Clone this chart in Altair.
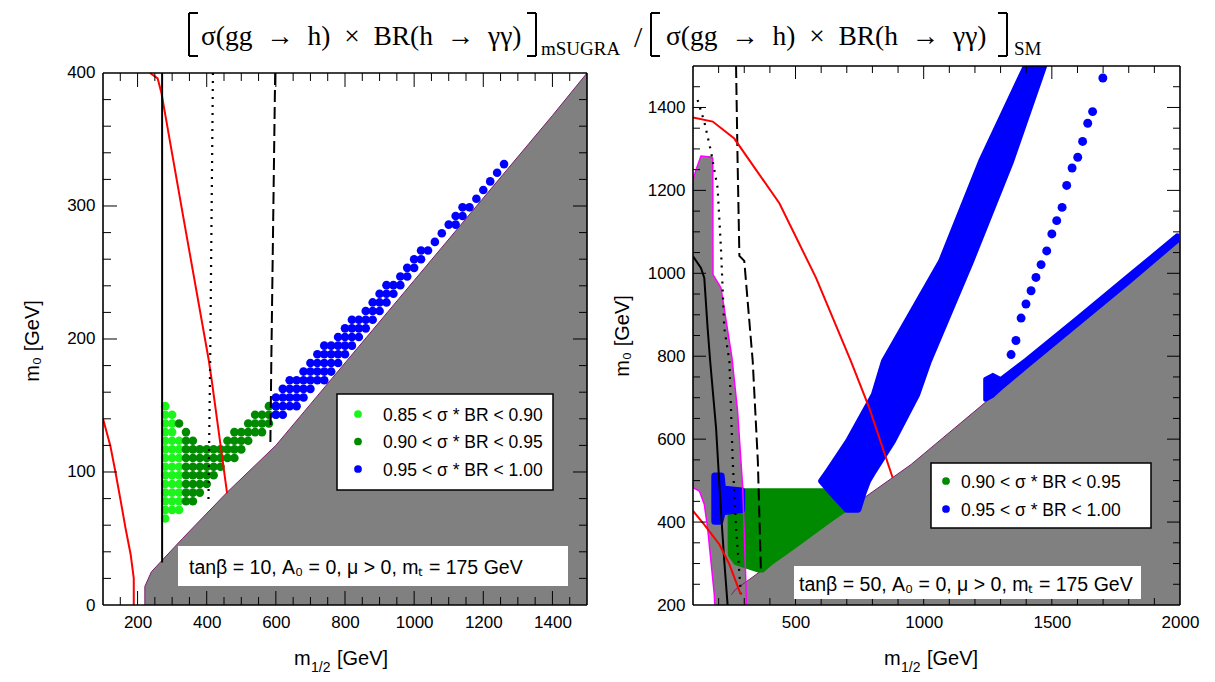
import altair as alt
import numpy as np
import pandas as pd

SANS = "Liberation Sans"
SERIF = "Liberation Serif"

# ======================= left panel : tan(beta) = 10 =======================
L_W, PANEL_H = 484, 539
L_XDOMAIN = [100, 1500]
L_YDOMAIN = [0, 405.26]          # frame top (400) sits 7 px below the panel top
L_YFRAME = [0, 400]
L_XLABELS = [200, 400, 600, 800, 1000, 1200, 1400]
L_YLABELS = [0, 100, 200, 300, 400]

L_GRAY_M = [221, 221, 240, 330, 460, 600, 800, 1000, 1200, 1400, 1500]
L_GRAY_M0 = [0, 14, 25, 50, 85, 120, 182, 244, 306, 368, 400]

L_M0_STEP = 6.5
L_LG_M = [280, 300, 320]
L_LG_LO = [65, 68, 70]
L_LG_HI = [150, 144, 128]

L_DG_M = [320, 340, 360, 380, 400, 420, 440, 460, 480, 500, 520, 540, 560, 580, 600]
L_DG_LO = [135, 73, 73, 83, 88, 93, 100, 106, 110, 115, 120, 124, 128, 134, 138]
L_DG_HI = [135, 130, 125, 120, 120, 120, 120, 125, 130, 135, 140, 145, 148, 152, 155]

L_BL_M = [600, 620, 640, 660, 680, 700, 720, 740, 760, 780, 800, 820, 840, 860, 880, 900,
          920, 940, 960, 980, 1000, 1020, 1040, 1060, 1080, 1100, 1120, 1140, 1160, 1180,
          1200, 1220, 1240, 1260]
L_BL_LO = [143, 143, 146, 149, 153, 158, 163, 169, 175, 181, 187, 193, 199, 206, 212, 218,
           224, 230, 237, 243, 249, 255, 261, 268, 274, 280, 286, 292, 299, 305,
           311, 317, 323, 330]
L_BL_HI = [160, 165, 170, 175, 180, 185, 190, 195, 200, 205, 210, 215, 220, 225, 230, 236,
           241, 246, 251, 256, 261, 267, 272, 277, 283, 288, 294, 299, 305, 311,
           317, 322, 328, 333]

L_RED1_M = [236, 258, 269, 330, 406, 415, 459]
L_RED1_M0 = [400, 396, 385, 295, 184, 168, 84]
L_RED2_M = [100, 121, 136, 150, 165, 180, 189, 189]
L_RED2_M0 = [140, 120, 100, 80, 58, 38, 20, 0]
L_SOLID_M = [271, 271]
L_SOLID_M0 = [400, 32]
L_DOT_M = [418, 410, 405]
L_DOT_M0 = [400, 183, 78]
L_DASH_M = [598, 587, 584]
L_DASH_M0 = [400, 186, 119]

L_CLASSES = ["0.85 < \u03c3 * BR < 0.90", "0.90 < \u03c3 * BR < 0.95", "0.95 < \u03c3 * BR < 1.00"]
L_COLORS = ["#1cf51c", "#008a00", "#0000ff"]

# ======================= right panel : tan(beta) = 50 =======================
R_W = 487
R_XDOMAIN = [100, 2000]
R_YDOMAIN = [200, 1500]
R_XLABELS = [500, 1000, 1500, 2000]
R_YLABELS = [200, 400, 600, 800, 1000, 1200, 1400]

R_GRAY_M = [250, 265, 365, 600, 951, 1243, 1500, 2000]
R_GRAY_M0 = [225, 237, 282, 385, 539, 690, 821, 1078]

# left grey region (rows in m0, left / right edge in m1/2)
R_LG_M0 = [200, 226, 242, 306, 370, 386, 443, 475, 483, 667, 796, 965, 997, 1226, 1255, 1278, 1283]
R_LG_L = [185, 183, 180, 170, 160, 157, 144, 125, 100, 100, 100, 100, 100, 100, 115, 128, 131]
R_LG_R = [308, 307, 307, 303, 300, 299, 296, 295, 294, 274, 252, 209, 178, 177, 177, 177, 177]
R_MAG_OUT_M = [100, 115, 131, 150, 177, 178, 209, 252, 274, 294, 300, 307, 308]
R_MAG_OUT_M0 = [1226, 1255, 1283, 1282, 1278, 997, 965, 796, 667, 483, 370, 242, 200]
R_MAG_IN_M = [100, 125, 144, 157, 170, 183, 185]
R_MAG_IN_M0 = [483, 475, 443, 386, 306, 226, 200]

R_GREEN_M0 = [282, 300, 320, 350, 400, 430, 450, 478]
R_GREEN_L = [355, 265, 242, 241, 241, 241, 241, 290]
R_GREEN_R = [372, 406, 452, 520, 630, 700, 675, 630]

R_BAND_M0 = [430, 470, 499, 523, 595, 708, 788, 1029, 1270, 1500]
R_BAND_L = [700, 640, 600, 627, 705, 806, 845, 1068, 1224, 1399]
R_BAND_R = [745, 765, 783, 806, 880, 975, 1020, 1185, 1341, 1470]

R_CLUS_M0 = [402, 425, 430, 475, 480, 511]
R_CLUS_L = [185, 185, 185, 185, 185, 185]
R_CLUS_R = [205, 215, 290, 290, 215, 210]

R_LOW_M = [1240, 1270, 1300, 1400, 1600, 1800, 1990]
R_LOW_LO = [695, 705, 722, 774, 876, 978, 1078]
R_LOW_HI = [745, 755, 745, 792, 893, 995, 1092]

R_CHAIN_M = [1341, 1360, 1380, 1399, 1419, 1438, 1458, 1480, 1500, 1519, 1540, 1558, 1579,
             1601, 1620, 1640, 1659, 1699]
R_CHAIN_M0 = [804, 838, 892, 926, 958, 990, 1021, 1054, 1095, 1127, 1159, 1212, 1254,
              1280, 1318, 1362, 1390, 1471]

R_RED1_M = [100, 177, 261, 437, 580, 716, 788, 879]
R_RED1_M0 = [1376, 1366, 1325, 1169, 989, 788, 675, 507]
R_RED2_M = [100, 144, 203, 242, 281, 287]
R_RED2_M0 = [427, 394, 346, 298, 234, 226]
R_SOLID_M = [100, 131, 144, 157, 167, 190, 209, 222, 235]
R_SOLID_M0 = [1041, 1013, 989, 868, 788, 627, 427, 306, 200]
R_DOT_M = [118, 144, 170, 196, 209, 222, 242, 255, 268, 287]
R_DOT_M0 = [1418, 1366, 1294, 1206, 1061, 868, 788, 547, 386, 226]
R_DASH_M = [268, 274, 281, 300, 333, 353, 365]
R_DASH_M0 = [1500, 1270, 1042, 1030, 788, 547, 282]

R_CLASSES = ["0.90 < \u03c3 * BR < 0.95", "0.95 < \u03c3 * BR < 1.00"]
R_COLORS = ["#008a00", "#0000ff"]

ONE = pd.DataFrame({"a": [0]})


def grid_points(ms, los, his, step, label):
    rows = []
    for m, lo, hi in zip(ms, los, his):
        k0 = int(np.ceil(lo / step - 1e-9))
        k1 = int(np.floor(hi / step + 1e-9))
        if k1 < k0:
            k0 = k1 = int(round((lo + hi) / 2 / step))
        for k in range(k0, k1 + 1):
            rows.append({"m": m, "m0": k * step, "cls": label})
    return rows


def line_df(ms, m0s):
    return pd.DataFrame({"m": ms, "m0": m0s, "i": list(range(len(ms)))})


def ticks_df(xdom, yfr, xmaj, xmin, ymaj, ymin, xpx, ypx, lmaj=13, lmin=7):
    rows = []
    x0, x1 = xdom
    y0, y1 = yfr
    for v, ln in [(v, lmaj) for v in xmaj] + [(v, lmin) for v in xmin]:
        rows.append((v, v, y0, y0 + ln / ypx, 1.0))
        rows.append((v, v, y1, y1 - ln / ypx, 1.0))
    for v, ln in [(v, lmaj) for v in ymaj] + [(v, lmin) for v in ymin]:
        rows.append((x0, x0 + ln / xpx, v, v, 1.0))
        rows.append((x1, x1 - ln / xpx, v, v, 1.0))
    rows += [(x0, x1, y0, y0, 1.6), (x0, x1, y1, y1, 1.6),
             (x0, x0, y0, y1, 1.6), (x1, x1, y0, y1, 1.6)]
    return pd.DataFrame(rows, columns=["x", "x2", "y", "y2", "w"])


def text_layer(txt, x, y, size, font=SANS, align="left", baseline="alphabetic", angle=0):
    kw = dict(text=txt, align=align, baseline=baseline, font=font, fontSize=size, color="black")
    if angle:
        kw["angle"] = angle
    return alt.Chart(ONE).mark_text(**kw).encode(x=alt.value(x), y=alt.value(y))


def box_layer(x, x2, y, y2, stroke=False):
    kw = dict(fill="white")
    if stroke:
        kw.update(stroke="black", strokeWidth=1.5)
    return alt.Chart(ONE).mark_rect(**kw).encode(
        x=alt.value(x), x2=alt.value(x2), y=alt.value(y), y2=alt.value(y2))


def seg_layer(x, x2, y, y2, width=2):
    return alt.Chart(ONE).mark_rule(color="black", strokeWidth=width).encode(
        x=alt.value(x), x2=alt.value(x2), y=alt.value(y), y2=alt.value(y2))


def dot_layer(x, y, color, size=60):
    return alt.Chart(ONE).mark_circle(size=size, color=color, opacity=1).encode(
        x=alt.value(x), y=alt.value(y))


def legend_layers(x0, y0, x1, y1, sym_x, txt_x, rows_y, labels, colors):
    out = [box_layer(x0, x1, y0, y1, stroke=True)]
    for yy, lab, col in zip(rows_y, labels, colors):
        out.append(dot_layer(sym_x, yy, col))
        out.append(text_layer(lab, txt_x, yy + 6.5, 17.5))
    return out


def bracket(x, y0, y1, side, serif=9):
    sx = x + serif if side == "left" else x - serif
    return [seg_layer(x, x, y0, y1), seg_layer(x, sx, y0, y0), seg_layer(x, sx, y1, y1)]


def axis(values, pad):
    return alt.Axis(values=values, title="", ticks=False, tickSize=0, domain=False, grid=False,
                    labelFont=SANS, labelFontSize=17, labelColor="black", labelPadding=pad,
                    labelFlush=False, labelOverlap=False, format="d")


# ----------------------------- left panel ---------------------------------
lxs = alt.Scale(domain=L_XDOMAIN, nice=False, zero=False)
lys = alt.Scale(domain=L_YDOMAIN, nice=False, zero=False)
lxa = axis(L_XLABELS, 9)
lya = axis(L_YLABELS, 8)


def LX(f):
    return alt.X(f + ":Q", scale=lxs, axis=lxa)


def LY(f):
    return alt.Y(f + ":Q", scale=lys, axis=lya)


l_gray_df = line_df(L_GRAY_M, L_GRAY_M0)
l_gray = alt.Chart(l_gray_df).mark_area(color="#808080", opacity=1).encode(
    x=LX("m"), y=LY("m0"), y2=alt.datum(0))
l_gray_edge = alt.Chart(l_gray_df).mark_line(color="#7a1f6e", strokeWidth=1).encode(
    x=LX("m"), y=LY("m0"), order="i:Q")

l_pts = pd.DataFrame(
    grid_points(L_LG_M, L_LG_LO, L_LG_HI, L_M0_STEP, L_CLASSES[0])
    + grid_points(L_DG_M, L_DG_LO, L_DG_HI, L_M0_STEP, L_CLASSES[1])
    + grid_points(L_BL_M, L_BL_LO, L_BL_HI, L_M0_STEP, L_CLASSES[2]))
l_points = alt.Chart(l_pts).mark_circle(size=74, opacity=1).encode(
    x=LX("m"), y=LY("m0"),
    color=alt.Color("cls:N", scale=alt.Scale(domain=L_CLASSES, range=L_COLORS), legend=None))


def l_line(ms, m0s, color, width, dash=None):
    kw = dict(color=color, strokeWidth=width, clip=True)
    if dash:
        kw["strokeDash"] = dash
    return alt.Chart(line_df(ms, m0s)).mark_line(**kw).encode(x=LX("m"), y=LY("m0"), order="i:Q")


l_xmin = [v for v in range(150, 1500, 50) if v not in L_XLABELS]
l_ymin = [v for v in range(20, 400, 20) if v % 100]
l_ticks_df = ticks_df(L_XDOMAIN, L_YFRAME, L_XLABELS, l_xmin, [100, 200, 300], l_ymin,
                      L_W / 1400.0, PANEL_H / 405.26, 14, 8)
l_ticks = alt.Chart(l_ticks_df).mark_rule(color="black").encode(
    x=LX("x"), x2=alt.X2("x2:Q"), y=LY("y"), y2=alt.Y2("y2:Q"),
    strokeWidth=alt.StrokeWidth("w:Q", scale=None))

left = alt.layer(
    l_gray, l_gray_edge, l_points,
    l_line(L_RED1_M, L_RED1_M0, "#ff0000", 2),
    l_line(L_RED2_M, L_RED2_M0, "#ff0000", 2),
    l_line(L_SOLID_M, L_SOLID_M0, "black", 2),
    l_line(L_DOT_M, L_DOT_M0, "black", 2.2, [2, 6]),
    l_line(L_DASH_M, L_DASH_M0, "black", 2, [12, 5]),
    l_ticks,
    *legend_layers(234, 328, 450, 424, 255, 280, [348, 375.5, 403], L_CLASSES, L_COLORS),
    box_layer(75, 465, 480, 520),
    text_layer("tan\u03b2 = 10, A\u2080 = 0, \u03bc > 0, m\u209c = 175 GeV", 86, 508, 19.5),
    text_layer("m\u2080 [GeV]", -70, 275, 20, align="center", baseline="middle", angle=270),
    text_layer("m", 191, 599, 20),
    text_layer("1/2", 208, 606, 14),
    text_layer("[GeV]", 234, 599, 20),
).properties(width=L_W, height=PANEL_H)

# ----------------------------- right panel --------------------------------
rxs = alt.Scale(domain=R_XDOMAIN, nice=False, zero=False)
rys = alt.Scale(domain=R_YDOMAIN, nice=False, zero=False)
rxa = axis(R_XLABELS, 9)
rya = axis(R_YLABELS, 8)


def RX(f):
    return alt.X(f + ":Q", scale=rxs, axis=rxa)


def RY(f):
    return alt.Y(f + ":Q", scale=rys, axis=rya)


r_color_scale = alt.Scale(domain=R_CLASSES, range=R_COLORS)


def rcolor():
    return alt.Color("cls:N", scale=r_color_scale, legend=None)


def rstroke():
    return alt.Stroke("cls:N", scale=r_color_scale, legend=None)


r_gray_df = line_df(R_GRAY_M, R_GRAY_M0)
r_gray = alt.Chart(r_gray_df).mark_area(color="#808080", opacity=1).encode(
    x=RX("m"), y=RY("m0"), y2=alt.datum(200))
r_gray_edge = alt.Chart(r_gray_df).mark_line(color="#7a1f6e", strokeWidth=1).encode(
    x=RX("m"), y=RY("m0"), order="i:Q")

r_lgray = alt.Chart(pd.DataFrame({"m0": R_LG_M0, "l": R_LG_L, "r": R_LG_R})).mark_area(
    orient="horizontal", color="#808080", opacity=1).encode(
    y=RY("m0"), x=RX("l"), x2=alt.X2("r:Q"))


def harea(m0s, ls, rs, label, sw=5):
    df = pd.DataFrame({"m0": m0s, "l": ls, "r": rs, "cls": [label] * len(m0s)})
    return alt.Chart(df).mark_area(orient="horizontal", opacity=1, strokeWidth=sw,
                                   strokeJoin="round", clip=True).encode(
        y=RY("m0"), x=RX("l"), x2=alt.X2("r:Q"), color=rcolor(), stroke=rstroke())


r_green = harea(R_GREEN_M0, R_GREEN_L, R_GREEN_R, R_CLASSES[0], 3)
r_band = harea(R_BAND_M0, R_BAND_L, R_BAND_R, R_CLASSES[1], 6)
r_clus = harea(R_CLUS_M0, R_CLUS_L, R_CLUS_R, R_CLASSES[1], 7)
r_low = alt.Chart(pd.DataFrame({"m": R_LOW_M, "lo": R_LOW_LO, "hi": R_LOW_HI,
                                "cls": [R_CLASSES[1]] * len(R_LOW_M)})).mark_area(
    opacity=1, strokeWidth=4, strokeJoin="round", clip=True).encode(
    x=RX("m"), y=RY("lo"), y2=alt.Y2("hi:Q"), color=rcolor(), stroke=rstroke())
r_chain = alt.Chart(pd.DataFrame({"m": R_CHAIN_M, "m0": R_CHAIN_M0,
                                  "cls": [R_CLASSES[1]] * len(R_CHAIN_M)})).mark_circle(
    size=80, opacity=1, clip=True).encode(x=RX("m"), y=RY("m0"), color=rcolor())


def r_line(ms, m0s, color, width, dash=None):
    kw = dict(color=color, strokeWidth=width, clip=True)
    if dash:
        kw["strokeDash"] = dash
    return alt.Chart(line_df(ms, m0s)).mark_line(**kw).encode(x=RX("m"), y=RY("m0"), order="i:Q")


r_xmin = [v for v in range(200, 2000, 100) if v % 500]
r_ymaj = [400, 600, 800, 1000, 1200, 1400]
r_ymin = [v for v in range(250, 1500, 50) if v % 200]
r_ticks_df = ticks_df(R_XDOMAIN, R_YDOMAIN, [500, 1000, 1500], r_xmin, r_ymaj, r_ymin,
                      R_W / 1900.0, PANEL_H / 1300.0, 13, 7)
r_ticks = alt.Chart(r_ticks_df).mark_rule(color="black").encode(
    x=RX("x"), x2=alt.X2("x2:Q"), y=RY("y"), y2=alt.Y2("y2:Q"),
    strokeWidth=alt.StrokeWidth("w:Q", scale=None))

EN = "\u2002"
MAIN = "\u03c3(gg" + EN + "\u2192" + EN + "h)" + EN + "\u00d7" + EN + "BR(h" + EN + "\u2192" + EN + "\u03b3\u03b3)"

right = alt.layer(
    r_gray, r_lgray, r_gray_edge,
    r_green, r_band, r_clus, r_low, r_chain,
    r_line(R_MAG_OUT_M, R_MAG_OUT_M0, "#ff00ff", 1.5),
    r_line(R_MAG_IN_M, R_MAG_IN_M0, "#ff00ff", 1.5),
    r_line(R_SOLID_M, R_SOLID_M0, "black", 2),
    r_line(R_DOT_M, R_DOT_M0, "black", 2.2, [2, 6]),
    r_line(R_DASH_M, R_DASH_M0, "black", 2, [12, 5]),
    r_line(R_RED1_M, R_RED1_M0, "#ff0000", 2),
    r_line(R_RED2_M, R_RED2_M0, "#ff0000", 2),
    r_ticks,
    *legend_layers(238, 397, 458, 462, 253, 268, [415, 443], R_CLASSES, R_COLORS),
    box_layer(101, 448, 500, 533),
    text_layer("tan\u03b2 = 50, A\u2080 = 0, \u03bc > 0, m\u209c = 175 GeV", 106, 525, 19.5),
    text_layer("m\u2080 [GeV]", -70, 270, 20, align="center", baseline="middle", angle=270),
    text_layer("m", 191, 599, 20),
    text_layer("1/2", 208, 606, 14),
    text_layer("[GeV]", 234, 599, 20),
    # overall title
    *bracket(-504, -53, -10, "left"),
    text_layer(MAIN, -492, -21, 27.5, font=SERIF),
    *bracket(-157, -53, -10, "right"),
    text_layer("mSUGRA", -152, -11, 19, font=SERIF),
    text_layer("/", -59, -19, 30, font=SERIF),
    *bracket(-42, -53, -10, "left"),
    text_layer(MAIN, -27, -21, 27.5, font=SERIF),
    *bracket(314, -53, -10, "right"),
    text_layer("SM", 321, -11, 19, font=SERIF),
).properties(width=R_W, height=PANEL_H)

chart = alt.hconcat(left, right, spacing=106, bounds="flush").resolve_scale(
    color="independent", stroke="independent").configure_view(
    stroke="transparent").properties(padding={"left": 14, "top": 3, "right": 5, "bottom": 5})

chart.save("out.html", embed_options={"renderer": "svg", "actions": False})
